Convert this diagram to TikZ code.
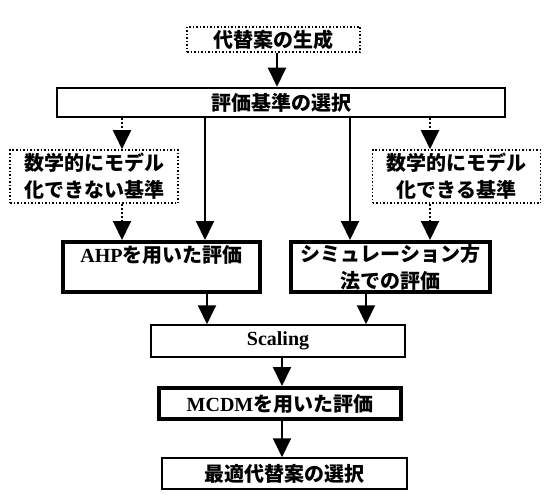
\documentclass[tikz,border=0pt]{standalone}
\usepackage{fontspec}
\setmainfont{Liberation Serif}
\newfontfamily\cjk{Noto Sans CJK JP}
\usetikzlibrary{arrows.meta}
\tikzset{
  box/.style={draw, inner sep=0pt, align=center, font=\fontsize{20}{27}\selectfont\cjk\bfseries, line width=1.5pt},
  dotbox/.style={box, dotted, line width=1.6pt},
  thickbox/.style={box, line width=4pt},
  midbox/.style={box, line width=2.5pt},
  arr/.style={line width=2pt, -{Triangle[width=18pt,length=19pt]}},
  dotarr/.style={arr, dotted},
}
\newcommand{\lat}[1]{{\rmfamily\bfseries #1}}
\begin{document}
\begin{tikzpicture}[x=1pt,y=-1pt]
\useasboundingbox (0,0) rectangle (544,495);
\node[dotbox, minimum width=173pt, minimum height=25pt] (gen) at (273.5,39.5) {代替案の生成};
\node[midbox, minimum width=448pt, minimum height=29pt] (sel) at (281,102.5) {評価基準の選択};
\node[dotbox, minimum width=168pt, minimum height=53pt] (lft) at (94,176.5) {数学的にモデル\\化できない基準};
\node[dotbox, minimum width=168pt, minimum height=53pt] (rgt) at (456.5,176.5) {数学的にモデル\\化できる基準};
\node[thickbox, minimum width=197pt, minimum height=50pt] (ahp) at (161.5,267) {\lat{AHP}を用いた評価\\\mbox{}};
\node[thickbox, minimum width=199pt, minimum height=50pt] (sim) at (390.5,267) {シミュレーション方\\法での評価};
\node[box, minimum width=254pt, minimum height=32pt] (scl) at (278,341) {\lat{Scaling}};
\node[thickbox, minimum width=242pt, minimum height=31pt] (mcdm) at (280,403.5) {\lat{MCDM}を用いた評価};
\node[box, minimum width=245pt, minimum height=31pt] (opt) at (284.5,473.5) {最適代替案の選択};
\coordinate (c0) at (277,0);
\coordinate (c1) at (122,0);
\coordinate (c2) at (205,0);
\coordinate (c3) at (350,0);
\coordinate (c4) at (430,0);
\coordinate (c5) at (207,0);
\coordinate (c6) at (366,0);
\coordinate (c7) at (282,0);
\draw[arr] (gen.south -| c0) -- (sel.north -| c0);
\draw[dotarr] (sel.south -| c1) -- (lft.north -| c1);
\draw[arr] (sel.south -| c2) -- (ahp.north -| c2);
\draw[arr] (sel.south -| c3) -- (sim.north -| c3);
\draw[dotarr] (sel.south -| c4) -- (rgt.north -| c4);
\draw[dotarr] (lft.south -| c1) -- (ahp.north -| c1);
\draw[dotarr] (rgt.south -| c4) -- (sim.north -| c4);
\draw[arr] (ahp.south -| c5) -- (scl.north -| c5);
\draw[arr] (sim.south -| c6) -- (scl.north -| c6);
\draw[arr] (scl.south -| c7) -- (mcdm.north -| c7);
\draw[arr] (mcdm.south -| c7) -- (opt.north -| c7);
\end{tikzpicture}
\end{document}
